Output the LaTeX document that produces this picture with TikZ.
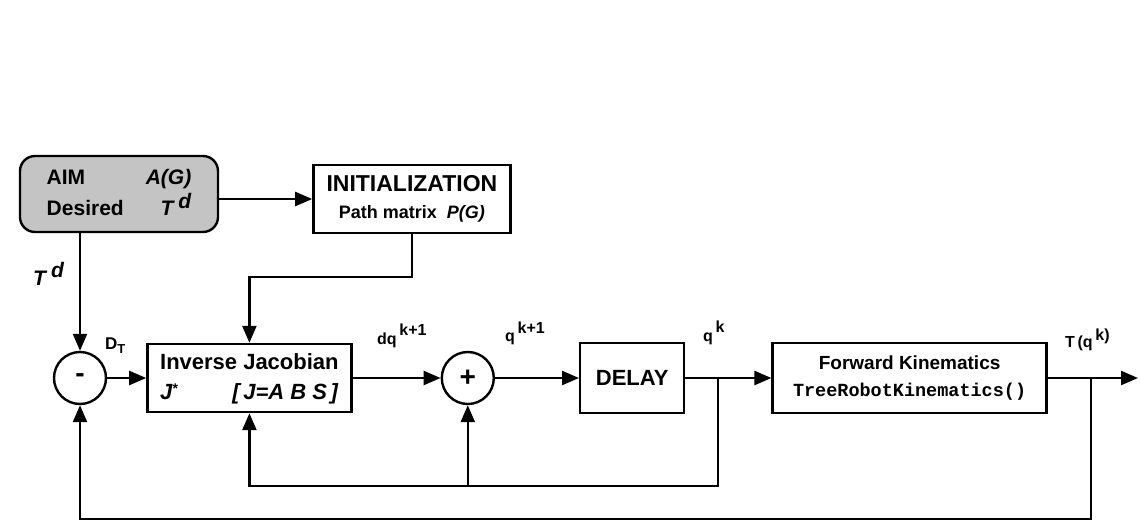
\documentclass[tikz,border=0pt]{standalone}
\usepackage{fontspec}
\setmainfont{Liberation Sans}
\setmonofont{Liberation Mono}
\usetikzlibrary{arrows.meta,positioning,calc}
\definecolor{aimgray}{RGB}{196,196,196}

\begin{document}
\begin{tikzpicture}[x=1pt,y=-1pt,
  font=\fontsize{21}{31}\selectfont\bfseries,
  block/.style={draw,line width=2.4pt,align=center,inner sep=0pt,
    minimum height=68pt},
  aimbox/.style={block,rounded corners=15pt,fill=aimgray,
    minimum width=198pt,minimum height=76pt},
  sum/.style={circle,draw,line width=2.4pt,minimum size=52pt,inner sep=0pt,
    font=\fontsize{28}{28}\selectfont\bfseries},
  lbl/.style={inner sep=0pt,anchor=base west,
    font=\fontsize{16}{18}\selectfont\bfseries},
  arr/.style={-{Triangle[length=17pt,width=14pt]},line width=2.4pt}]

  \useasboundingbox (0,0) rectangle (1140,522);

  % top row
  \node[aimbox] (aim) at (119,194)
    {\begin{tabular}{@{}l@{\hspace{22pt}}r@{}}
      AIM & \textit{A(G)}\\
      Desired & \textit{T}\,\raisebox{7pt}{\itshape d}
     \end{tabular}};
  \node[block,minimum width=197pt,right=93pt of aim,yshift=-5pt] (init)
    {\fontsize{23}{26}\selectfont INITIALIZATION\\[-4pt]
     \fontsize{18}{22}\selectfont Path matrix\ \ \textit{P(G)}};
  \draw[arr] (aim.east |- init.west) -- (init.west);

  % main loop
  \node[sum] (minus) at (80,378) {-};
  \node[block,minimum width=204pt,right=39pt of minus] (jac)
    {\fontsize{22}{30}\selectfont
     \begin{tabular}{@{}l@{}}
      Inverse Jacobian\\
      \textit{J}\raisebox{6pt}{\fontsize{14}{14}\selectfont *}\hfill
      \textit{[\,J=A B S\,]}
     \end{tabular}};
  \node[sum,right=88pt of jac] (plus) {+};
  \node[block,minimum width=104pt,minimum height=70pt,right=84pt of plus] (delay)
    {\fontsize{22}{26}\selectfont DELAY};
  \node[block,minimum width=274pt,minimum height=70pt,right=86pt of delay] (fk)
    {\fontsize{19}{22}\selectfont Forward Kinematics\\[-4pt]
     \fontsize{18.5}{22}\selectfont\ttfamily\bfseries TreeRobotKinematics()};

  \coordinate (b1) at ($(delay.east)!0.38!(fk.west)$);
  \coordinate (out) at (1138,378);
  \coordinate (b2) at ($(fk.east)!0.48!(out)$);
  \coordinate (low1) at (b1 |- 0,486);
  \coordinate (low2) at (b2 |- 0,519);

  \draw[arr] (minus.north |- aim.south) -- (minus.north);
  \draw[arr] (init.south) -- ++(0,43) -| (jac.north);
  \draw[arr] (minus) -- (jac);
  \draw[arr] (jac) -- (plus);
  \draw[arr] (plus) -- (delay);
  \draw[arr] (delay) -- (fk);
  \draw[arr] (fk) -- (out);

  % feedback
  \draw[arr] (b1) -- (low1) -| (jac.south);
  \draw[arr] (plus.south |- low1) -- (plus.south);
  \draw[arr] (b2) -- (low2) -| (minus.south);

  % signal labels
  \node[lbl,font=\fontsize{21}{24}\selectfont\bfseries] (ltd) at (33,285)
    {\textit{T}\,\raisebox{8pt}{\itshape d}};
  \node[lbl,font=\fontsize{17}{18}\selectfont\bfseries] (ldt) at (105,349)
    {D\raisebox{-4pt}{\fontsize{13}{13}\selectfont T}};
  \node[lbl] (ldq) at (377,344) {dq\,\raisebox{9pt}{k+1}};
  \node[lbl] (lq1) at (505,341) {q\,\raisebox{8pt}{k+1}};
  \node[lbl] (lqk) at (703,341) {q\,\raisebox{9pt}{k}};
  \node[lbl] (ltq) at (1065,347) {T\,(q\,\raisebox{7pt}{k)}};

\end{tikzpicture}
\end{document}
